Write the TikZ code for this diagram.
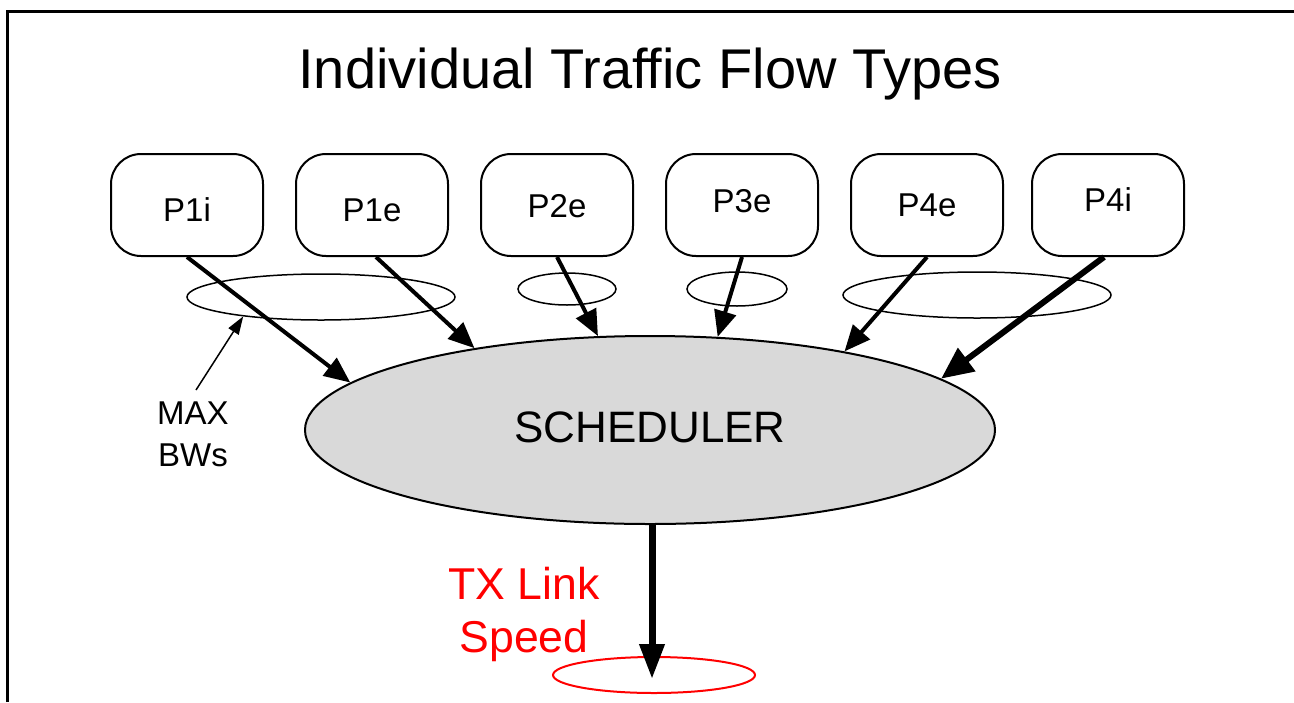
\documentclass[tikz,border=0pt]{standalone}
\usepackage{fontspec}
\setmainfont{Liberation Sans}
\usetikzlibrary{arrows.meta,shapes.geometric}
\definecolor{schedgray}{RGB}{217,217,217}
\definecolor{linkred}{RGB}{255,0,0}
% move text up or down inside its node without changing the node's size
\newcommand{\nudge}[2]{\raisebox{#1}[\height][\depth]{#2}}
\begin{document}
\begin{tikzpicture}[x=0.5pt,y=-0.5pt,
  flowbox/.style={draw,line width=1pt,rounded corners=15pt,minimum width=76pt,
    minimum height=51pt,inner sep=0pt,font=\fontsize{16.5}{19}\selectfont},
  bwring/.style={draw,ellipse,line width=0.75pt,inner sep=0pt},
  flow/.style={line width=2pt,-{Triangle[length=13pt,width=11pt]}},
  heavyflow/.style={line width=3pt,-{Triangle[length=16pt,width=14pt]}},
  note/.style={align=center,inner sep=0pt}]
\useasboundingbox (0,0) rectangle (1294,702);

% frame
\draw[line width=1.5pt] (7,702) -- (7,11) -- (1294,11);

% title
\node[inner sep=0pt,font=\fontsize{28}{32}\selectfont] (title) at (650,74.5)
  {Individual Traffic Flow Types};

% traffic flow sources
\node[flowbox] (p1i) at (187,205) {\nudge{-2.25pt}{P1i}};
\node[flowbox] (p1e) at (372,205) {\nudge{-2.75pt}{P1e}};
\node[flowbox] (p2e) at (557,205) {\nudge{-0.5pt}{P2e}};
\node[flowbox] (p3e) at (742,205) {\nudge{2pt}{P3e}};
\node[flowbox] (p4e) at (927,205) {\nudge{0pt}{P4e}};
\node[flowbox] (p4i) at (1108,205) {\nudge{2.5pt}{P4i}};

% maximum bandwidth rings
\node[bwring,minimum width=134pt,minimum height=23pt] (bw1) at (321,297) {};
\node[bwring,minimum width=49pt,minimum height=16pt] (bw2) at (567,289) {};
\node[bwring,minimum width=50pt,minimum height=17pt] (bw3) at (737,289) {};
\node[bwring,minimum width=134pt,minimum height=23pt] (bw4) at (977,295) {};

% scheduler
\node[draw,ellipse,fill=schedgray,line width=1pt,minimum width=345pt,
  minimum height=94pt,inner sep=0pt,font=\fontsize{22}{26}\selectfont]
  (sched) at (650,430) {\nudge{1.25pt}{SCHEDULER}};

% flows into the scheduler
\draw[flow] (p1i.south) -- (sched.171);
\draw[flow] ([xshift=2pt]p1e.south) -- (sched.155.3);
\draw[flow] (p2e.south) -- (sched.119.4);
\draw[flow] (p3e.south) -- (sched.54.8);
\draw[flow] (p4e.south) -- (sched.22.8);
\draw[heavyflow] ([xshift=-2pt]p4i.south) -- (sched.10.2);

% bandwidth note
\node[note,font=\fontsize{16.5}{21}\selectfont] (maxbw) at (193,434) {MAX\\BWs};
\coordinate (maxtail) at (196,390);
\draw[line width=0.75pt,-{Triangle[length=9pt,width=6pt]}] (maxtail) -- (bw1.194);

% output link
\node[draw=linkred,ellipse,line width=1pt,minimum width=101pt,minimum height=18pt,
  inner sep=0pt] (link) at (654,675) {};
\coordinate (linktip) at (652,679);
\draw[line width=3.5pt,-{Triangle[length=17.5pt,width=12pt]}]
  (sched.south -| linktip) -- (linktip);
\node[note,text=linkred,font=\fontsize{22.3}{26.5}\selectfont] (speed) at (524,614)
  {TX Link\\Speed};
\end{tikzpicture}
\end{document}
